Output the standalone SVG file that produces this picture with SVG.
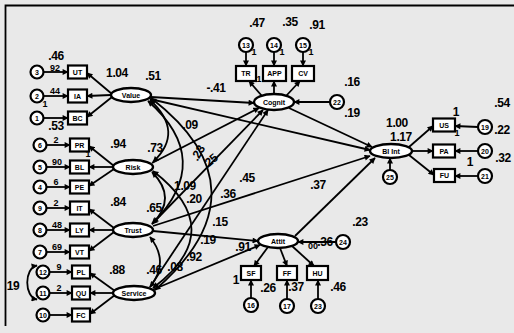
<svg xmlns="http://www.w3.org/2000/svg" width="514" height="333" viewBox="0 0 514 333">
  <style>
    .ar { fill: none; stroke: #000; stroke-width: 1.8; marker-end: url(#head); }
    .cv { fill: none; stroke: #000; stroke-width: 1.8; marker-start: url(#head); marker-end: url(#head); }
    .lat { fill: #fff; stroke: #000; stroke-width: 2.4; }
    .obs { fill: #fff; stroke: #000; stroke-width: 2.2; }
    .err { fill: #fff; stroke: #000; stroke-width: 2.2; }
    .nt { font-family: "Liberation Sans", Arial, sans-serif; font-weight: bold; font-size: 7px; text-anchor: middle; fill: #000; }
    .et { font-family: "Liberation Sans", Arial, sans-serif; font-weight: bold; font-size: 7px; text-anchor: middle; fill: #000; }
    .num { font-family: "Liberation Sans", Arial, sans-serif; font-weight: bold; font-size: 12px; text-anchor: middle; fill: #000; letter-spacing: -0.4px; }
    .sm { font-family: "Liberation Sans", Arial, sans-serif; font-weight: bold; font-size: 9px; text-anchor: middle; fill: #000; }
  </style>
  <defs>
    <marker id="head" viewBox="0 0 10 10" refX="9" refY="5" markerWidth="7" markerHeight="6" markerUnits="userSpaceOnUse" orient="auto-start-reverse">
      <path d="M0,0 L10,5 L0,10 Z" fill="#000"/>
    </marker>
  </defs>

  <!-- paper and frame -->
  <rect x="0" y="0" width="514" height="333" fill="#e9e9e9"/>
  <path d="M5.5,326 L5.5,5.5 L514,5.5" fill="none" stroke="#000" stroke-width="1.8"/>

  <!-- connectors -->
  <g id="connectors">
    <!-- measurement paths: latent to indicators -->
    <path class="ar" d="M112,94 L87,73"/>
    <path class="ar" d="M111,95 L87,96"/>
    <path class="ar" d="M112,97 L87,117"/>
    <path class="ar" d="M114,166 L89,146"/>
    <path class="ar" d="M113,167 L89,167"/>
    <path class="ar" d="M114,169 L89,186"/>
    <path class="ar" d="M114,228 L89,209"/>
    <path class="ar" d="M113,230 L89,230"/>
    <path class="ar" d="M114,232 L89,251"/>
    <path class="ar" d="M115,291 L90,273"/>
    <path class="ar" d="M113,293 L90,293"/>
    <path class="ar" d="M115,295 L90,314"/>
    <path class="ar" d="M262,96 L249,81"/>
    <path class="ar" d="M274,94 L274,81"/>
    <path class="ar" d="M286,96 L300,81"/>
    <path class="ar" d="M409,147 L433,126"/>
    <path class="ar" d="M412,151 L433,151"/>
    <path class="ar" d="M409,155 L434,175"/>
    <path class="ar" d="M268,247 L254,266"/>
    <path class="ar" d="M280,248 L287,266"/>
    <path class="ar" d="M292,246 L314,266"/>

    <!-- error terms to indicators -->
    <path class="ar" d="M43.5,72 L68,72"/>
    <path class="ar" d="M43.5,96 L68,96"/>
    <path class="ar" d="M43.5,118 L68,118"/>
    <path class="ar" d="M46.5,145 L70,145"/>
    <path class="ar" d="M46.5,167 L70,167"/>
    <path class="ar" d="M46.5,187 L70,187"/>
    <path class="ar" d="M46.5,208 L70,208"/>
    <path class="ar" d="M46.5,230 L70,230"/>
    <path class="ar" d="M46.5,252 L70,252"/>
    <path class="ar" d="M49.5,272 L72,272"/>
    <path class="ar" d="M49.5,293 L72,293"/>
    <path class="ar" d="M49.5,315 L72,315"/>
    <path class="ar" d="M246,52 L246,66"/>
    <path class="ar" d="M274,52 L274,66"/>
    <path class="ar" d="M303,52 L303,66"/>
    <path class="ar" d="M478,127 L455,126"/>
    <path class="ar" d="M478,151 L455,151"/>
    <path class="ar" d="M478,176 L455,176"/>
    <path class="ar" d="M251,298 L251,280"/>
    <path class="ar" d="M287,299 L287,280"/>
    <path class="ar" d="M318,299 L318,280"/>
    <path class="ar" d="M330,102 L294,102"/>
    <path class="ar" d="M390,170 L390,158"/>
    <path class="ar" d="M336,242 L298,242"/>

    <!-- structural paths -->
    <path class="ar" d="M151,97 L254,103"/>
    <path class="ar" d="M150,99 L370,150"/>
    <path class="ar" d="M152,163 L259,108"/>
    <path class="ar" d="M152,224 L263,110"/>
    <path class="ar" d="M150,287 L268,110"/>
    <path class="ar" d="M289,108 L372,147"/>
    <path class="ar" d="M153,226 L370,156"/>
    <path class="ar" d="M295,236 L375,158"/>
    <path class="ar" d="M153,231 L258,241"/>
    <path class="ar" d="M152,290 L260,245"/>

    <!-- covariances -->
    <path class="cv" d="M150,100 Q185,132 153,162"/>
    <path class="cv" d="M152,172 Q178,198 152,224"/>
    <path class="cv" d="M150,237 Q170,262 150,287"/>
    <path class="cv" d="M148,101 Q215,160 153,223"/>
    <path class="cv" d="M153,171 Q230,230 153,288"/>
    <path class="cv" d="M151,98 Q270,190 155,290"/>
    <path class="cv" d="M37,265.5 C24,268 24,297 37,299.5"/>
  </g>

  <!-- Value block -->
  <g id="value">
    <ellipse class="lat" cx="131" cy="95" rx="20" ry="7"/>
    <text class="nt" x="131" y="97.5">Value</text>
    <rect class="obs" x="68" y="65.5" width="19" height="13"/><text class="nt" x="77.5" y="74.5">UT</text>
    <rect class="obs" x="68" y="89.5" width="19" height="13"/><text class="nt" x="77.5" y="98.5">IA</text>
    <rect class="obs" x="68" y="111.5" width="19" height="13"/><text class="nt" x="77.5" y="120.5">BC</text>
    <circle class="err" cx="37" cy="72" r="6.5"/><text class="et" x="37" y="74.5">3</text>
    <circle class="err" cx="37" cy="96" r="6.5"/><text class="et" x="37" y="98.5">2</text>
    <circle class="err" cx="37" cy="118" r="6.5"/><text class="et" x="37" y="120.5">1</text>
  </g>

  <!-- Risk block -->
  <g id="risk">
    <ellipse class="lat" cx="133" cy="167" rx="20" ry="7"/>
    <text class="nt" x="133" y="169.5">Risk</text>
    <rect class="obs" x="70" y="138.5" width="19" height="13"/><text class="nt" x="79.5" y="147.5">PR</text>
    <rect class="obs" x="70" y="160.5" width="19" height="13"/><text class="nt" x="79.5" y="169.5">BL</text>
    <rect class="obs" x="70" y="180.5" width="19" height="13"/><text class="nt" x="79.5" y="189.5">PE</text>
    <circle class="err" cx="40" cy="145" r="6.5"/><text class="et" x="40" y="147.5">6</text>
    <circle class="err" cx="40" cy="167" r="6.5"/><text class="et" x="40" y="169.5">5</text>
    <circle class="err" cx="40" cy="187" r="6.5"/><text class="et" x="40" y="189.5">4</text>
  </g>

  <!-- Trust block -->
  <g id="trust">
    <ellipse class="lat" cx="133" cy="230" rx="20" ry="7"/>
    <text class="nt" x="133" y="232.5">Trust</text>
    <rect class="obs" x="70" y="201.5" width="19" height="13"/><text class="nt" x="79.5" y="210.5">IT</text>
    <rect class="obs" x="70" y="223.5" width="19" height="13"/><text class="nt" x="79.5" y="232.5">LY</text>
    <rect class="obs" x="70" y="245.5" width="19" height="13"/><text class="nt" x="79.5" y="254.5">VT</text>
    <circle class="err" cx="40" cy="208" r="6.5"/><text class="et" x="40" y="210.5">9</text>
    <circle class="err" cx="40" cy="230" r="6.5"/><text class="et" x="40" y="232.5">8</text>
    <circle class="err" cx="40" cy="252" r="6.5"/><text class="et" x="40" y="254.5">7</text>
  </g>

  <!-- Service block -->
  <g id="service">
    <ellipse class="lat" cx="134" cy="293" rx="21" ry="7"/>
    <text class="nt" x="134" y="295.5">Service</text>
    <rect class="obs" x="72" y="265.5" width="18" height="13"/><text class="nt" x="81" y="274.5">PL</text>
    <rect class="obs" x="72" y="286.5" width="18" height="13"/><text class="nt" x="81" y="295.5">QU</text>
    <rect class="obs" x="72" y="308.5" width="18" height="13"/><text class="nt" x="81" y="317.5">FC</text>
    <circle class="err" cx="43" cy="272" r="6.5"/><text class="et" x="43" y="274.5">12</text>
    <circle class="err" cx="43" cy="293" r="6.5"/><text class="et" x="43" y="295.5">11</text>
    <circle class="err" cx="43" cy="315" r="6.5"/><text class="et" x="43" y="317.5">10</text>
  </g>

  <!-- Cognit block -->
  <g id="cognit">
    <ellipse class="lat" cx="274" cy="102" rx="20" ry="8"/>
    <text class="nt" x="274" y="104.5">Cognit</text>
    <rect class="obs" x="236" y="66" width="20" height="15"/><text class="nt" x="246" y="76">TR</text>
    <rect class="obs" x="263" y="66" width="23" height="15"/><text class="nt" x="274.5" y="76">APP</text>
    <rect class="obs" x="292" y="66" width="22" height="15"/><text class="nt" x="303" y="76">CV</text>
    <circle class="err" cx="246" cy="45" r="7"/><text class="et" x="246" y="47.5">13</text>
    <circle class="err" cx="274" cy="45" r="7"/><text class="et" x="274" y="47.5">14</text>
    <circle class="err" cx="303" cy="45" r="7"/><text class="et" x="303" y="47.5">15</text>
    <circle class="err" cx="337" cy="102" r="7"/><text class="et" x="337" y="104.5">22</text>
  </g>

  <!-- Attit block -->
  <g id="attit">
    <ellipse class="lat" cx="278" cy="241" rx="20" ry="7"/>
    <text class="nt" x="278" y="243.5">Attit</text>
    <rect class="obs" x="241" y="266" width="20" height="14"/><text class="nt" x="251" y="275.5">SF</text>
    <rect class="obs" x="277" y="266" width="20" height="14"/><text class="nt" x="287" y="275.5">FF</text>
    <rect class="obs" x="307" y="266" width="21" height="14"/><text class="nt" x="317.5" y="275.5">HU</text>
    <circle class="err" cx="251" cy="305" r="7"/><text class="et" x="251" y="307.5">16</text>
    <circle class="err" cx="287" cy="306" r="7"/><text class="et" x="287" y="308.5">17</text>
    <circle class="err" cx="318" cy="306" r="7"/><text class="et" x="318" y="308.5">23</text>
    <circle class="err" cx="343" cy="242" r="7"/><text class="et" x="343" y="244.5">24</text>
  </g>

  <!-- BI block -->
  <g id="bi">
    <ellipse class="lat" cx="391" cy="151" rx="21" ry="7"/>
    <text class="nt" x="391" y="153.5">BI Int</text>
    <rect class="obs" x="433" y="118.5" width="22" height="13"/><text class="nt" x="444" y="127.5">US</text>
    <rect class="obs" x="433" y="144.5" width="22" height="13"/><text class="nt" x="444" y="153.5">PA</text>
    <rect class="obs" x="434" y="169" width="21" height="13"/><text class="nt" x="444.5" y="178">FU</text>
    <circle class="err" cx="485" cy="127" r="7"/><text class="et" x="485" y="129.5">19</text>
    <circle class="err" cx="485" cy="151" r="7"/><text class="et" x="485" y="153.5">20</text>
    <circle class="err" cx="485" cy="176" r="7"/><text class="et" x="485" y="178.5">21</text>
    <circle class="err" cx="390" cy="177" r="7"/><text class="et" x="390" y="179.5">25</text>
  </g>

  <!-- estimates -->
  <g id="estimates">
    <text class="num" x="56" y="60">.46</text>
    <text class="num" x="117" y="77">1.04</text>
    <text class="num" x="153" y="80">.51</text>
    <text class="num" x="56" y="130">.53</text>
    <text class="num" x="216" y="92">-.41</text>
    <text class="num" x="118" y="148">.94</text>
    <text class="num" x="155" y="152">.73</text>
    <text class="num" x="118" y="206">.84</text>
    <text class="num" x="154" y="212">.65</text>
    <text class="num" x="117" y="274">.88</text>
    <text class="num" x="13" y="290">19</text>
    <text class="num" x="257" y="27">.47</text>
    <text class="num" x="290" y="26">.35</text>
    <text class="num" x="317" y="29">.91</text>
    <text class="num" x="352" y="86">.16</text>
    <text class="num" x="352" y="117">.19</text>
    <text class="num" x="502" y="107">.54</text>
    <text class="num" x="456" y="116">1</text>
    <text class="num" x="502" y="134">.22</text>
    <text class="num" x="503" y="162">.32</text>
    <text class="num" x="470" y="166">1</text>
    <text class="num" x="397" y="127">1.00</text>
    <text class="num" x="401" y="141">1.17</text>
    <text class="num" x="190" y="129">.09</text>
    <text class="num" x="198" y="157" transform="rotate(-60 198 153)">.23</text>
    <text class="num" x="210" y="165" transform="rotate(-40 210 161)">.25</text>
    <text class="num" x="185" y="190">1.09</text>
    <text class="num" x="194" y="203">.20</text>
    <text class="num" x="247" y="182">.45</text>
    <text class="num" x="228" y="198">.36</text>
    <text class="num" x="318" y="189">.37</text>
    <text class="num" x="220" y="226">.15</text>
    <text class="num" x="208" y="244">.19</text>
    <text class="num" x="194" y="261">.92</text>
    <text class="num" x="175" y="271">.08</text>
    <text class="num" x="154" y="274">.46</text>
    <text class="num" x="360" y="226">.23</text>
    <text class="num" x="325" y="246">.36</text>
    <text class="num" x="243" y="251">.91</text>
    <text class="num" x="236" y="284">1</text>
    <text class="num" x="268" y="292">.26</text>
    <text class="num" x="296" y="291">.37</text>
    <text class="num" x="338" y="291">.46</text>
    <!-- small path weights beside the error terms -->
    <text class="sm" x="55" y="71">92</text>
    <text class="sm" x="55" y="94">44</text>
    <text class="sm" x="56" y="143">2</text>
    <text class="sm" x="57" y="165">90</text>
    <text class="sm" x="56" y="185">6</text>
    <text class="sm" x="56" y="206">2</text>
    <text class="sm" x="57" y="228">48</text>
    <text class="sm" x="57" y="250">69</text>
    <text class="sm" x="59" y="270">9</text>
    <text class="sm" x="59" y="291">2</text>
    <text class="sm" x="45" y="107">1</text>
    <text class="sm" x="88" y="157">1</text>
    <text class="sm" x="254" y="55">1</text>
    <text class="sm" x="282" y="55">1</text>
    <text class="sm" x="311" y="55">1</text>
    <text class="sm" x="259" y="82">1</text>
    <text class="sm" x="457" y="136">1</text>
    <text class="sm" x="313" y="249">00</text>
  </g>
</svg>
